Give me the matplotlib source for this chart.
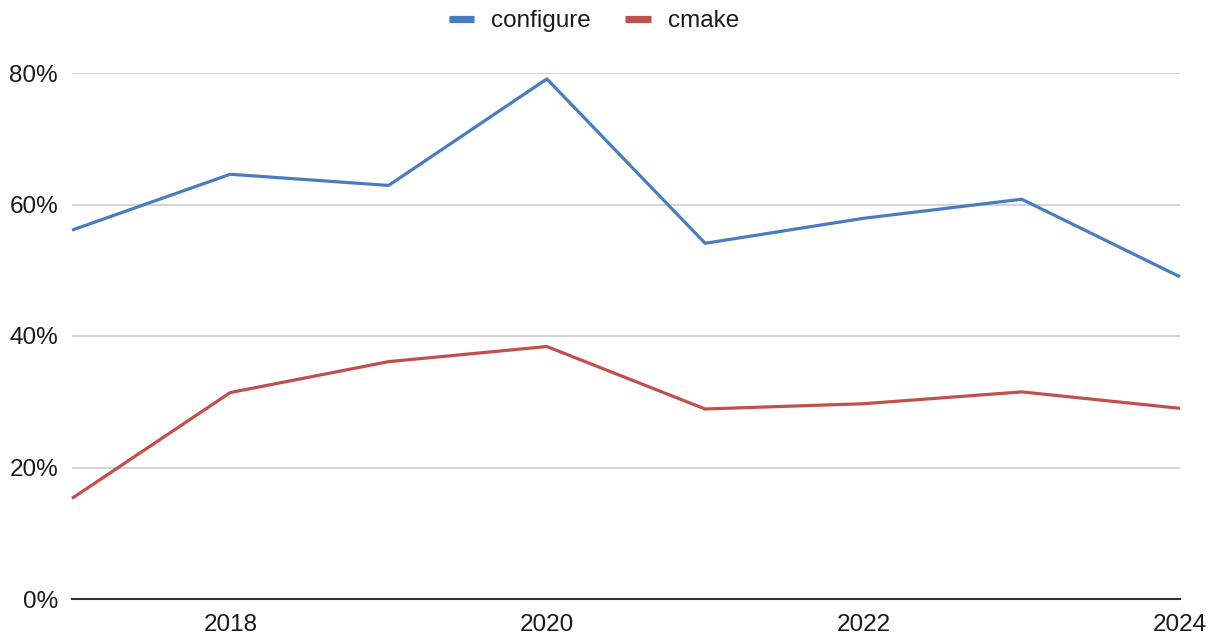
import matplotlib
matplotlib.use("Agg")
import matplotlib.pyplot as plt
from matplotlib.lines import Line2D
from matplotlib.ticker import FuncFormatter

years = [2017, 2018, 2019, 2020, 2021, 2022, 2023, 2024]
configure = [56.1, 64.6, 62.9, 79.1, 54.1, 57.9, 60.8, 49.0]
cmake = [15.3, 31.4, 36.1, 38.4, 28.9, 29.7, 31.5, 29.0]

series_names = ["configure", "cmake"]
series_colors = ["#4a7dbf", "#c0504d"]
x_ticks = [2018, 2020, 2022, 2024]
y_ticks = [0, 20, 40, 60, 80]

plt.rcParams["font.family"] = ["Liberation Sans", "DejaVu Sans"]
FS = 17.5
TEXT = "#1a1a1a"

fig = plt.figure(figsize=(12.16, 6.35), dpi=100)
ax = fig.add_axes([72 / 1216, 36 / 635, (1180 - 72) / 1216, (599 - 73) / 635])

for vals, name, col in zip([configure, cmake], series_names, series_colors):
    ax.plot(years, vals, color=col, lw=2.3, solid_joinstyle="round",
            solid_capstyle="butt", clip_on=False, zorder=3, label=name)

ax.set_xlim(years[0], years[-1])
ax.set_ylim(0, 80)
ax.set_xticks(x_ticks)
ax.set_yticks(y_ticks)
ax.yaxis.set_major_formatter(FuncFormatter(lambda v, p: f"{v:.0f}%"))

ax.grid(axis="y", color="#cccccc", lw=1.2, zorder=0)
ax.grid(axis="x", visible=False)
for side in ["top", "right", "left"]:
    ax.spines[side].set_visible(False)
ax.spines["bottom"].set_color("#333333")
ax.spines["bottom"].set_linewidth(1.5)
ax.spines["bottom"].set_zorder(4)

ax.tick_params(axis="both", length=0, labelsize=FS, colors=TEXT)
ax.tick_params(axis="x", pad=11)
ax.tick_params(axis="y", pad=10)

handles = [Line2D([0], [0], color=c, lw=5.2, solid_capstyle="butt") for c in series_colors]
fig.legend(handles, series_names, loc="center", bbox_to_anchor=(594 / 1216, 1 - 21 / 635),
           ncol=2, frameon=False, fontsize=FS, handlelength=1.05, handletextpad=0.7,
           columnspacing=1.4, labelcolor=TEXT, borderpad=0)

fig.savefig("out.png", dpi=100, facecolor="white")
